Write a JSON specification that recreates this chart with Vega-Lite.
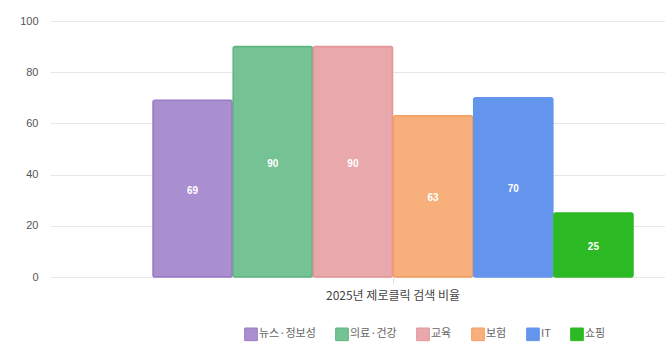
{
  "$schema": "https://vega.github.io/schema/vega-lite/v6.json",
  "autosize": {"type": "none"},
  "width": 615,
  "height": 256,
  "padding": {"left": 50, "top": 21, "right": 0, "bottom": 76},
  "background": "white",
  "data": {
    "values": [
      {"cat": "2025년 제로클릭 검색 비율", "series": "뉴스·정보성", "value": 69},
      {"cat": "2025년 제로클릭 검색 비율", "series": "의료·건강", "value": 90},
      {"cat": "2025년 제로클릭 검색 비율", "series": "교육", "value": 90},
      {"cat": "2025년 제로클릭 검색 비율", "series": "보험", "value": 63},
      {"cat": "2025년 제로클릭 검색 비율", "series": "IT", "value": 70},
      {"cat": "2025년 제로클릭 검색 비율", "series": "쇼핑", "value": 25}
    ]
  },
  "encoding": {
    "x": {
      "field": "cat", "type": "nominal",
      "scale": {"paddingInner": 0, "paddingOuter": 0.140625, "align": 0.763},
      "axis": {"title": null, "domain": false, "ticks": true, "tickColor": "#dddddd", "tickSize": 6, "labelPadding": 7, "labelFontSize": 12, "labelColor": "#444444", "labelFont": "Noto Sans CJK KR", "labelAngle": 0, "grid": false}
    },
    "xOffset": {
      "field": "series", "type": "nominal",
      "sort": ["뉴스·정보성", "의료·건강", "교육", "보험", "IT", "쇼핑"],
      "scale": {"paddingInner": 0.0125, "paddingOuter": 0}
    }
  },
  "layer": [
    {
      "mark": {"type": "bar", "cornerRadius": 2, "strokeWidth": 1.5},
      "encoding": {
        "y": {
          "field": "value", "type": "quantitative",
          "scale": {"domain": [0, 100], "nice": false},
          "axis": {"title": null, "values": [0, 20, 40, 60, 80, 100], "domain": false, "ticks": false, "tickSize": 0, "labelPadding": 12, "labelFontSize": 11, "labelColor": "#555555", "labelFont": "Liberation Sans", "gridColor": "#e6e6e6", "gridWidth": 1}
        },
        "fill": {
          "field": "series", "type": "nominal",
          "scale": {"domain": ["뉴스·정보성", "의료·건강", "교육", "보험", "IT", "쇼핑"], "range": ["#A98FD0", "#75C295", "#E9A9AC", "#F7B07B", "#6495ED", "#2CBA24"]},
          "legend": {"orient": "none", "legendX": 194, "legendY": 306, "direction": "horizontal", "columns": 6, "title": null, "symbolType": "square", "symbolSize": 160, "symbolStrokeWidth": 1, "symbolStrokeColor": "#ffffff", "labelFontSize": 11, "labelColor": "#666666", "labelFont": "Noto Sans CJK KR", "labelOffset": 1, "columnPadding": 17, "padding": 0}
        },
        "stroke": {
          "field": "series", "type": "nominal",
          "scale": {"domain": ["뉴스·정보성", "의료·건강", "교육", "보험", "IT", "쇼핑"], "range": ["#9B7BC8", "#5DB57F", "#E69599", "#F59F63", "#6495ED", "#2CBA24"]},
          "legend": null
        }
      }
    },
    {
      "mark": {"type": "text", "color": "white", "fontWeight": "bold", "fontSize": 10, "font": "Liberation Sans", "baseline": "middle", "dy": 2},
      "encoding": {
        "y": {"field": "value", "type": "quantitative", "scale": {"domain": [0, 200], "nice": false}, "axis": null},
        "text": {"field": "value", "type": "quantitative"}
      }
    }
  ],
  "resolve": {"scale": {"y": "independent"}},
  "config": {"view": {"stroke": null}}
}
